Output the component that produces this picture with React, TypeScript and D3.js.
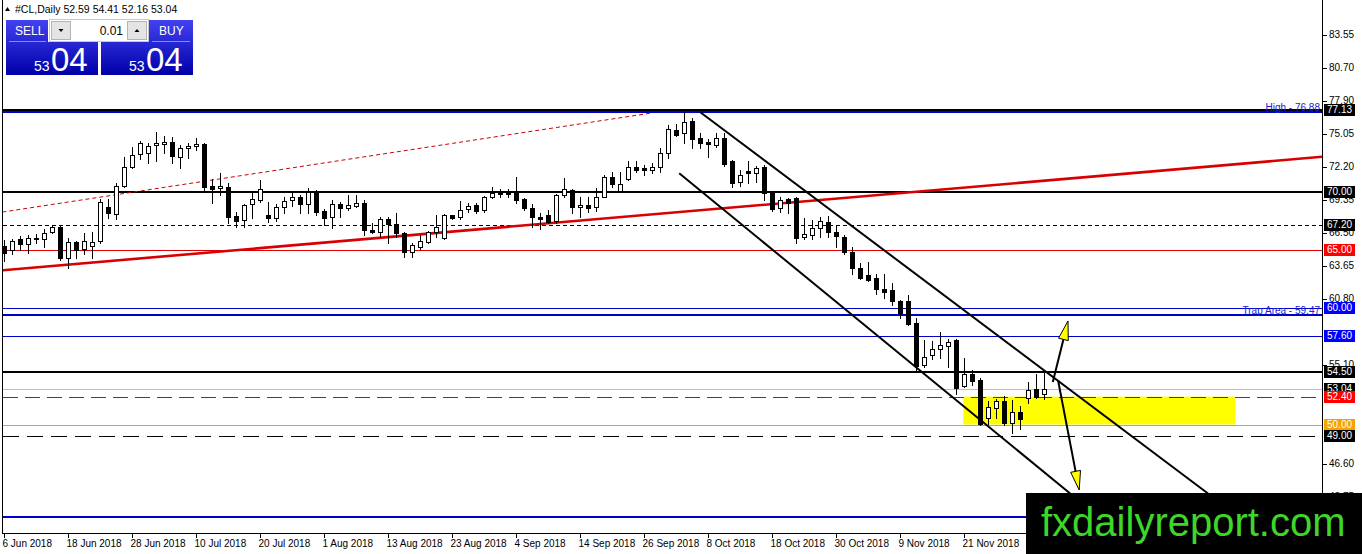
import * as d3 from 'd3'

// ---- data (#CL daily, Jun - Dec 2018) ----
const opens = [
  65.4, 64.99, 65.94, 65.51, 66.1, 65.94, 66.55, 66.98, 64.3, 65.68,
  65.08, 65.34, 65.85, 68.7, 68.1, 70.52, 72.16, 73.28, 73.37, 74.06,
  74.15, 74.32, 73.02, 73.8, 73.97, 74.15, 70.52, 70.35, 70.43, 67.93,
  67.58, 68.96, 69.31, 68.01, 67.75, 68.7, 69.31, 69.57, 68.96, 70.0,
  68.36, 67.84, 68.96, 68.62, 68.79, 69.05, 66.72, 66.55, 67.67, 67.24,
  66.46, 64.82, 65.25, 65.68, 66.55, 66.03, 68.01, 67.84, 68.53, 68.88,
  68.45, 69.57, 70.0, 70.09, 70.09, 69.4, 68.62, 67.84, 68.01, 67.5,
  69.74, 70.17, 68.7, 68.88, 68.7, 69.57, 71.3, 70.09, 71.12, 72.16,
  72.07, 71.9, 72.16, 73.37, 75.35, 75.09, 76.12, 74.66, 74.32, 74.06,
  74.66, 72.68, 70.86, 71.81, 71.64, 72.16, 69.91, 68.62, 69.4, 69.48,
  66.11, 66.29, 66.89, 67.41, 66.55, 66.11, 64.82, 63.44, 62.92, 62.66,
  61.71, 61.62, 60.67, 60.67, 58.78, 55.15, 56.01, 56.53, 56.79, 57.3,
  53.34, 54.37, 53.85, 50.58, 51.44, 52.04, 50.14, 51.09, 52.3, 53.08,
  52.59,
]
const highs = [
  65.9, 66.0, 66.2, 66.29, 66.45, 66.8, 67.15, 67.06, 66.03, 65.77,
  66.46, 66.55, 69.4, 69.4, 70.78, 73.02, 73.89, 74.4, 74.23, 75.17,
  74.83, 74.75, 74.06, 74.23, 74.66, 74.23, 71.12, 71.64, 70.78, 68.27,
  68.96, 70.0, 71.04, 69.14, 68.96, 69.57, 69.91, 69.74, 70.35, 70.17,
  68.53, 69.31, 69.14, 69.74, 69.74, 69.31, 67.32, 67.84, 67.84, 68.19,
  66.55, 65.6, 66.29, 66.63, 68.01, 68.1, 68.05, 69.22, 69.05, 69.05,
  69.65, 70.43, 70.26, 70.26, 71.3, 69.48, 68.96, 68.19, 68.45, 69.83,
  71.21, 70.26, 69.57, 69.57, 70.35, 71.47, 71.73, 71.73, 72.68, 72.68,
  72.33, 72.5, 73.8, 75.78, 75.87, 76.88, 76.38, 75.09, 74.58, 75.09,
  75.09, 72.76, 71.9, 72.68, 72.25, 72.33, 69.96, 69.57, 69.48, 69.57,
  67.75, 67.58, 67.84, 67.93, 67.06, 66.29, 65.25, 63.87, 63.96, 63.0,
  63.0, 62.23, 60.76, 61.19, 59.21, 57.3, 57.22, 58.0, 57.39, 57.39,
  55.75, 54.71, 54.03, 52.04, 52.21, 52.47, 52.13, 51.61, 53.68, 54.37,
  54.41,
]
const lows = [
  64.1, 64.73, 65.0, 64.8, 65.6, 65.3, 66.46, 64.21, 63.52, 64.3,
  64.73, 64.3, 65.6, 67.75, 67.67, 70.43, 72.07, 72.85, 72.5, 72.68,
  73.37, 72.5, 72.07, 72.94, 73.63, 70.0, 69.05, 69.74, 67.32, 66.98,
  66.98, 67.75, 69.14, 67.41, 67.5, 68.19, 68.79, 68.19, 68.19, 68.01,
  67.15, 66.89, 67.84, 68.45, 68.7, 66.29, 66.46, 66.11, 65.6, 66.11,
  64.39, 64.39, 65.16, 65.6, 66.11, 65.94, 67.67, 67.67, 68.27, 68.19,
  68.27, 69.48, 69.57, 69.57, 69.05, 68.45, 66.98, 66.8, 67.32, 67.32,
  69.57, 68.19, 67.84, 68.27, 68.36, 69.57, 70.43, 70.0, 71.04, 71.73,
  71.47, 71.64, 71.73, 72.94, 74.83, 74.23, 73.8, 73.8, 73.02, 73.89,
  72.25, 70.43, 70.52, 70.78, 70.86, 69.31, 68.36, 68.27, 68.19, 65.6,
  65.94, 65.94, 66.11, 66.11, 65.25, 64.73, 63.0, 62.57, 62.4, 61.28,
  60.93, 60.33, 59.21, 58.6, 54.71, 54.97, 55.67, 55.75, 54.97, 52.64,
  53.25, 53.42, 49.97, 50.06, 50.58, 49.97, 49.28, 49.63, 51.87, 52.3,
  52.16,
]
const closes = [
  64.8, 65.77, 65.51, 66.03, 65.95, 66.46, 66.98, 64.3, 65.68, 64.99,
  65.85, 65.68, 69.14, 68.19, 70.52, 72.16, 73.2, 74.23, 73.97, 74.23,
  74.32, 73.11, 73.8, 73.97, 74.15, 70.43, 70.26, 70.52, 67.84, 67.5,
  68.88, 69.4, 70.26, 67.75, 68.7, 69.22, 69.57, 68.96, 70.0, 68.27,
  67.75, 68.96, 68.62, 68.88, 69.05, 66.72, 66.55, 67.67, 67.24, 66.46,
  64.82, 65.42, 65.85, 66.55, 66.98, 68.01, 67.75, 68.45, 68.79, 68.36,
  69.57, 69.91, 69.87, 69.83, 69.31, 68.62, 67.84, 67.7, 67.41, 69.74,
  70.26, 68.7, 68.88, 68.62, 69.57, 71.3, 70.69, 70.69, 72.16, 71.9,
  71.94, 72.16, 73.37, 75.44, 74.92, 76.04, 74.58, 74.23, 74.15, 74.66,
  72.42, 70.78, 71.47, 71.64, 72.07, 69.91, 68.53, 69.31, 69.05, 66.03,
  66.37, 66.89, 67.5, 66.55, 66.2, 64.82, 63.44, 62.66, 62.49, 61.71,
  61.45, 60.67, 59.64, 58.69, 55.06, 55.84, 56.53, 56.87, 57.13, 53.16,
  54.37, 53.77, 50.06, 51.53, 52.04, 50.14, 51.09, 50.49, 52.99, 52.39,
  53.04,
]

const dateLabels = [
  '6 Jun 2018', '18 Jun 2018', '28 Jun 2018', '10 Jul 2018', '20 Jul 2018',
  '1 Aug 2018', '13 Aug 2018', '23 Aug 2018', '4 Sep 2018', '14 Sep 2018',
  '26 Sep 2018', '8 Oct 2018', '18 Oct 2018', '30 Oct 2018', '9 Nov 2018',
  '21 Nov 2018',
]
const dateBars = [0, 8, 16, 24, 32, 40, 48, 56, 64, 72, 80, 88, 96, 104, 112, 120]

// scale labels that are not hidden behind a price tag
const priceTicks = [
  '83.55', '80.70', '77.90', '75.05', '72.20', '69.35', '66.50', '63.65',
  '60.80', '55.10', '46.60', '43.75',
]

// horizontal levels drawn on the chart
const levelValues = [77.13, 76.88, 70.0, 67.2, 65.0, 60.0, 59.47, 57.6, 54.5, 53.04, 52.4, 50.0, 49.0, 42.0]
// price tags on the right scale
const tagValues = [77.13, 70.0, 67.2, 65.0, 60.0, 57.6, 54.5, 53.04, 52.4, 50.0, 49.0]

// trendlines as [bar, price] pairs
const redTrend: [number, number][] = [[0, 63.3], [130, 71.0]]
const redDotted: [number, number][] = [[-0.2, 68.3], [81.1, 76.85]]
const channelUpper: [number, number][] = [[87, 76.92], [151, 43.8]]
const channelLower: [number, number][] = [[84.4, 71.64], [133.5, 43.93]]
const arrowUp: [number, number][] = [[131.1, 53.66], [133.0, 58.92]]
const arrowDown: [number, number][] = [[131.75, 53.83], [134.4, 44.36]]
const zoneBars = [119.9, 153.9]
const zonePrices = [52.4, 50.0]

const W = 1362
const H = 554
const plot = { left: 3, right: 1322, top: 1, bottom: 533 }
const font = "'Liberation Sans', Arial, sans-serif"

const levelStyle = [
  { stroke: '#000', w: 2 },
  { stroke: '#0000cd', w: 2 },
  { stroke: '#000', w: 2 },
  { stroke: '#000', w: 1, dash: '4,3' },
  { stroke: '#e00000', w: 1 },
  { stroke: '#0000cd', w: 1 },
  { stroke: '#0000cd', w: 2 },
  { stroke: '#0000cd', w: 1 },
  { stroke: '#000', w: 2 },
  { stroke: '#c0c0c0', w: 1 },
  { stroke: '#e00000', w: 1, dash: '15,7' },
  { stroke: '#f0a000', w: 1 },
  { stroke: '#000', w: 1, dash: '16,8' },
  { stroke: '#0000cd', w: 2 },
]
const tagColor = ['#000', '#000', '#000', '#ff0000', '#0000ff', '#0000ff', '#000', '#000', '#ff0000', '#f4a300', '#000']

export default function App() {
  const x = d3.scaleLinear().domain([0, 130]).range([4, 1044])
  const y = d3.scaleLinear().domain([46.6, 83.55]).range([464, 35])

  const px = (p: [number, number]) => [x(p[0]), y(p[1])] as [number, number]

  // extend a line through two points across the plot width
  const extend = (pts: [number, number][]) => {
    const [a, b] = pts.map(px)
    const k = (b[1] - a[1]) / (b[0] - a[0])
    return [plot.left, a[1] + k * (plot.left - a[0]), plot.right, a[1] + k * (plot.right - a[0])]
  }
  const red = extend(redTrend)
  const dotted = redDotted.map(px)
  const up = channelUpper.map(px)
  const low = channelLower.map(px)

  const arrow = (pts: [number, number][]) => {
    const [t, h] = pts.map(px)
    const dx = h[0] - t[0]
    const dy = h[1] - t[1]
    const len = Math.hypot(dx, dy)
    const ux = dx / len
    const uy = dy / len
    const hl = 19
    const hw = 5
    const bx = h[0] - ux * hl
    const by = h[1] - uy * hl
    return {
      line: [t[0], t[1], bx, by],
      head: `${h[0]},${h[1]} ${bx - uy * hw},${by + ux * hw} ${bx + uy * hw},${by - ux * hw}`,
    }
  }
  const aUp = arrow(arrowUp)
  const aDown = arrow(arrowDown)

  const candles = opens.map((o, i) => {
    const c = closes[i]
    const cx = Math.round(x(i))
    const top = Math.round(y(Math.max(o, c)))
    const bot = Math.round(y(Math.min(o, c)))
    return {
      cx,
      top,
      h: Math.max(bot - top, 1),
      hi: Math.round(y(highs[i])),
      lo: Math.round(y(lows[i])),
      bull: c >= o,
    }
  })

  return (
    <div style={{ position: 'absolute', left: 0, top: 0, width: W, height: H, background: '#fff' }}>
      <svg width={W} height={H} style={{ display: 'block' }} fontFamily={font}>
        <defs>
          <clipPath id="plotClip">
            <rect x={plot.left} y={plot.top} width={plot.right - plot.left} height={plot.bottom - plot.top} />
          </clipPath>
          <linearGradient id="btn" gradientUnits="userSpaceOnUse" x1="0" y1="20" x2="0" y2="75">
            <stop offset="0%" stopColor="#4242f2" />
            <stop offset="100%" stopColor="#0000a8" />
          </linearGradient>
        </defs>
        <rect width={W} height={H} fill="#fff" />

        <g clipPath="url(#plotClip)">
          {/* support / resistance zone */}
          <rect
            x={x(zoneBars[0])}
            y={y(zonePrices[0])}
            width={x(zoneBars[1]) - x(zoneBars[0])}
            height={y(zonePrices[1]) - y(zonePrices[0])}
            fill="#ffff00"
          />
          {/* horizontal levels */}
          <g shapeRendering="crispEdges">
            {levelValues.map((v, i) => {
              const s = levelStyle[i]
              const yy = Math.round(y(v)) + (s.w === 1 ? 0.5 : 0)
              return (
                <line
                  key={i}
                  x1={plot.left}
                  x2={plot.right}
                  y1={yy}
                  y2={yy}
                  stroke={s.stroke}
                  strokeWidth={s.w}
                  strokeDasharray={s.dash}
                />
              )
            })}
          </g>
          <text x={plot.right - 2} y={y(76.88) - 1} textAnchor="end" fontSize={10} fill="#2020d0">
            High - 76.88
          </text>
          <text x={plot.right - 2} y={y(59.47) - 1} textAnchor="end" fontSize={10} fill="#2020d0">
            Trap Area - 59.47
          </text>

          {/* trendlines */}
          <line x1={red[0]} y1={red[1]} x2={red[2]} y2={red[3]} stroke="#d80000" strokeWidth={2.6} />
          <line
            x1={dotted[0][0]}
            y1={dotted[0][1]}
            x2={dotted[1][0]}
            y2={dotted[1][1]}
            stroke="#d00000"
            strokeWidth={1}
            strokeDasharray="4,3"
          />
          <line x1={up[0][0]} y1={up[0][1]} x2={up[1][0]} y2={up[1][1]} stroke="#000" strokeWidth={2} />
          <line x1={low[0][0]} y1={low[0][1]} x2={low[1][0]} y2={low[1][1]} stroke="#000" strokeWidth={2} />

          {/* candles */}
          <g shapeRendering="crispEdges">
            {candles.map((d, i) => (
              <g key={i}>
                <line x1={d.cx + 0.5} x2={d.cx + 0.5} y1={d.hi} y2={d.lo + 1} stroke="#000" strokeWidth={1} />
                <rect
                  x={d.cx - 1.5}
                  y={d.top + 0.5}
                  width={4}
                  height={d.h}
                  fill={d.bull ? '#fff' : '#000'}
                  stroke="#000"
                  strokeWidth={1}
                />
              </g>
            ))}
          </g>

          {/* arrows */}
          {[aUp, aDown].map((a, i) => (
            <g key={i}>
              <line x1={a.line[0]} y1={a.line[1]} x2={a.line[2]} y2={a.line[3]} stroke="#000" strokeWidth={2} />
              <polygon points={a.head} fill="#ffff00" stroke="#000" strokeWidth={1} />
            </g>
          ))}
        </g>

        {/* frame */}
        <g shapeRendering="crispEdges" stroke="#000" strokeWidth={1} fill="none">
          <line x1={plot.left - 0.5} x2={plot.left - 0.5} y1={0} y2={plot.bottom + 0.5} />
          <line x1={plot.right + 0.5} x2={plot.right + 0.5} y1={0} y2={plot.bottom + 0.5} />
          <line x1={plot.left - 0.5} x2={plot.right + 0.5} y1={plot.bottom + 0.5} y2={plot.bottom + 0.5} />
        </g>

        {/* price scale */}
        <g fontSize={10} fill="#000">
          {priceTicks.map((t) => {
            const yy = Math.round(y(+t)) + 0.5
            return (
              <g key={t}>
                <line x1={plot.right + 1} x2={plot.right + 5} y1={yy} y2={yy} stroke="#000" shapeRendering="crispEdges" />
                <text x={plot.right + 7} y={yy} dominantBaseline="middle">
                  {t}
                </text>
              </g>
            )
          })}
        </g>
        <g fontSize={10}>
          {tagValues.map((v, i) => {
            const yy = Math.round(y(v))
            return (
              <g key={v}>
                <rect x={plot.right + 2} y={yy - 6} width={31} height={12} fill={tagColor[i]} />
                <text x={plot.right + 17.5} y={yy + 0.5} textAnchor="middle" dominantBaseline="middle" fill="#fff">
                  {v.toFixed(2)}
                </text>
              </g>
            )
          })}
        </g>

        {/* time scale */}
        <g fontSize={10} fill="#000">
          {dateBars.map((b, i) => {
            const xx = Math.round(x(b)) + 0.5
            return (
              <g key={b}>
                <line x1={xx} x2={xx} y1={plot.bottom + 1} y2={plot.bottom + 5} stroke="#000" shapeRendering="crispEdges" />
                <text x={xx - 2} y={547}>
                  {dateLabels[i]}
                </text>
              </g>
            )
          })}
        </g>

        {/* header */}
        <polygon points="5,11 10,11 7.5,7" fill="#000" />
        <text x={15} y={13} fontSize={10.5} fill="#000">
          #CL,Daily  52.59 54.41 52.16 53.04
        </text>

        {/* one-click trading panel */}
        <g>
          <rect x={6} y={20} width={42} height={23} fill="url(#btn)" />
          <rect x={6} y={42} width={92} height={33} fill="url(#btn)" />
          <rect x={149} y={20} width={44} height={23} fill="url(#btn)" />
          <rect x={101} y={42} width={92} height={33} fill="url(#btn)" />
          <line x1={9} x2={46} y1={41.5} y2={41.5} stroke="#8a8af8" />
          <line x1={152} x2={190} y1={41.5} y2={41.5} stroke="#8a8af8" />
          <rect x={49.5} y={19.5} width={99} height={22} fill="#fff" stroke="#c8c8c8" />
          <rect x={51.5} y={21.5} width={19} height={18} fill="#e4e4e4" stroke="#b4b4b4" />
          <rect x={127.5} y={21.5} width={19} height={18} fill="#e4e4e4" stroke="#b4b4b4" />
          <polygon points="58.5,29 63.5,29 61,32" fill="#000" />
          <polygon points="134.5,32 139.5,32 137,29" fill="#000" />
          <text x={123} y={35} fontSize={12} textAnchor="end" fill="#000">
            0.01
          </text>
          <text x={15} y={35} fontSize={12} fill="#fff">
            SELL
          </text>
          <text x={159} y={35} fontSize={12} fill="#fff">
            BUY
          </text>
          <text x={34} y={71} fontSize={14} fill="#fff">
            53
          </text>
          <text x={51} y={71} fontSize={33} fill="#fff">
            04
          </text>
          <text x={129} y={71} fontSize={14} fill="#fff">
            53
          </text>
          <text x={146} y={71} fontSize={33} fill="#fff">
            04
          </text>
        </g>

        {/* watermark */}
        <rect x={1026} y={493} width={W - 1026} height={H - 493} fill="#000" />
        <text x={1041} y={536} fontSize={40} fill="#3fd62a" fontFamily="'Liberation Sans', Arial, sans-serif">
          fxdailyreport.com
        </text>
      </svg>
    </div>
  )
}
